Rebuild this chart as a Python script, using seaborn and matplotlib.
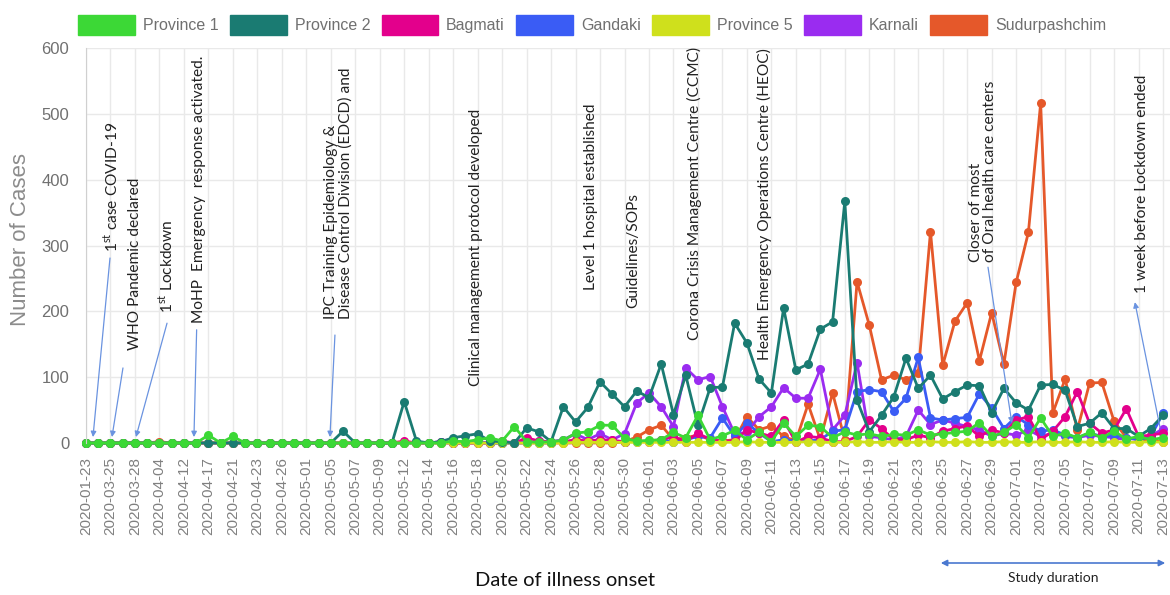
import pandas as pd
import seaborn as sns
import matplotlib.pyplot as plt
from matplotlib.patches import Patch, FancyArrowPatch

# Dates of illness onset (categorical axis, every second one labelled)
dates_early = ["2020-01-23", "2020-03-23", "2020-03-25", "2020-03-26", "2020-03-28",
               "2020-04-01", "2020-04-04", "2020-04-08", "2020-04-12", "2020-04-15",
               "2020-04-17", "2020-04-19", "2020-04-21", "2020-04-22", "2020-04-23",
               "2020-04-25", "2020-04-26", "2020-04-29", "2020-05-01", "2020-05-03",
               "2020-05-05", "2020-05-06", "2020-05-07", "2020-05-08", "2020-05-09",
               "2020-05-11"]
dates = dates_early + list(pd.date_range("2020-05-12", "2020-07-13").strftime("%Y-%m-%d"))

province_1 = [0, 0, 0, 0, 0, 0, 0, 0, 0, 0,
              12, 0, 10, 0, 0, 0, 0, 0, 0, 0,
              0, 0, 0, 0, 0, 0, 0, 0, 0, 0,
              3, 2, 5, 8, 3, 25, 2, 1, 2, 4,
              15, 17, 27, 27, 7, 3, 4, 5, 16, 8,
              42, 5, 11, 19, 5, 17, 2, 30, 10, 27,
              25, 8, 17, 12, 14, 10, 13, 12, 20, 12,
              14, 16, 18, 31, 10, 16, 28, 8, 38, 10,
              15, 8, 16, 8, 18, 6, 10, 5, 8]
province_2 = [0, 0, 0, 0, 0, 0, 0, 0, 0, 0,
              0, 0, 0, 0, 0, 0, 0, 0, 0, 0,
              0, 18, 0, 0, 0, 0, 63, 3, 0, 2,
              8, 11, 14, 3, 2, 0, 23, 17, 2, 55,
              32, 54, 93, 74, 55, 79, 69, 120, 43, 103,
              27, 84, 85, 182, 152, 97, 76, 205, 111, 120,
              173, 184, 367, 65, 17, 42, 70, 129, 83, 103,
              67, 78, 88, 87, 46, 83, 61, 50, 88, 89,
              80, 25, 30, 46, 22, 22, 10, 22, 42]
bagmati = [0, 0, 0, 0, 0, 0, 0, 0, 0, 0,
           0, 0, 0, 0, 0, 0, 0, 0, 0, 0,
           0, 0, 0, 0, 0, 0, 3, 0, 0, 2,
           0, 0, 0, 0, 3, 0, 8, 3, 2, 2,
           5, 3, 5, 4, 2, 3, 2, 5, 10, 2,
           15, 5, 3, 3, 20, 15, 10, 35, 1, 10,
           8, 2, 2, 10, 35, 22, 5, 5, 12, 8,
           18, 22, 26, 10, 20, 15, 35, 40, 5, 18,
           40, 78, 30, 15, 20, 52, 10, 12, 15]
gandaki = [0, 0, 0, 0, 0, 0, 0, 0, 0, 0,
           0, 0, 0, 0, 0, 0, 0, 0, 0, 0,
           0, 0, 0, 0, 0, 0, 0, 0, 0, 2,
           0, 0, 2, 0, 0, 0, 2, 0, 0, 2,
           3, 2, 5, 3, 2, 2, 3, 5, 2, 5,
           10, 8, 38, 10, 30, 15, 2, 5, 3, 3,
           5, 18, 20, 78, 81, 78, 48, 68, 130, 38,
           35, 37, 39, 75, 53, 22, 40, 28, 18, 20,
           12, 8, 15, 10, 12, 8, 5, 10, 45]
province_5 = [0, 0, 0, 0, 0, 0, 0, 0, 0, 0,
              0, 0, 0, 0, 0, 0, 0, 0, 0, 0,
              0, 0, 0, 0, 0, 0, 0, 0, 0, 0,
              0, 0, 0, 0, 0, 0, 0, 0, 0, 0,
              1, 1, 1, 1, 1, 1, 1, 1, 1, 1,
              1, 1, 1, 1, 2, 1, 1, 1, 1, 2,
              1, 1, 1, 2, 1, 1, 2, 1, 1, 2,
              1, 1, 2, 1, 1, 2, 1, 1, 2, 1,
              1, 2, 1, 1, 2, 1, 1, 2, 1]
karnali = [0, 0, 0, 0, 0, 0, 0, 0, 0, 0,
           0, 0, 0, 0, 0, 0, 0, 0, 0, 0,
           0, 0, 0, 0, 0, 0, 0, 0, 0, 0,
           0, 0, 0, 0, 0, 0, 0, 3, 2, 5,
           14, 5, 14, 5, 14, 61, 76, 55, 25, 114,
           96, 101, 55, 14, 16, 40, 55, 84, 68, 68,
           112, 20, 42, 122, 10, 8, 5, 10, 50, 28,
           35, 30, 25, 20, 10, 15, 12, 20, 10, 15,
           10, 8, 12, 10, 8, 5, 8, 10, 22]
sudurpashchim = [0, 0, 0, 0, 0, 0, 2, 0, 0, 0,
                 0, 0, 0, 0, 0, 0, 0, 0, 0, 0,
                 0, 0, 0, 0, 0, 0, 0, 0, 0, 0,
                 0, 0, 0, 0, 0, 0, 0, 0, 0, 0,
                 0, 0, 0, 0, 2, 9, 20, 27, 5, 8,
                 12, 5, 3, 5, 40, 20, 26, 10, 3, 59,
                 5, 76, 5, 245, 179, 96, 103, 96, 106, 321,
                 118, 185, 213, 125, 198, 120, 244, 320, 516, 46,
                 97, 20, 91, 92, 33, 8, 5, 3, 2]

provinces = ["Province 1", "Province 2", "Bagmati", "Gandaki", "Province 5", "Karnali", "Sudurpashchim"]
colors = ["#3cd836", "#1a7b72", "#e3008c", "#3a5cf5", "#cfe01c", "#9a2cf0", "#e5582a"]
palette = dict(zip(provinces, colors))

df = pd.DataFrame({"idx": range(len(dates)), "date": dates,
                   "Province 1": province_1, "Province 2": province_2, "Bagmati": bagmati,
                   "Gandaki": gandaki, "Province 5": province_5, "Karnali": karnali,
                   "Sudurpashchim": sudurpashchim})
long = df.melt(id_vars=["idx", "date"], var_name="province", value_name="cases")

sns.set_style("white")
plt.rcParams["font.family"] = ["Liberation Sans", "DejaVu Sans"]
plt.rcParams["mathtext.fontset"] = "custom"
plt.rcParams["mathtext.rm"] = "Lato"

fig = plt.figure(figsize=(11.7, 5.95), dpi=100)
ax = fig.add_axes([86 / 1170, 1 - 443 / 595, 1 - 86 / 1170, (443 - 48) / 595])

# draw order: green on top, as in the original
draw_order = ["Sudurpashchim", "Karnali", "Gandaki", "Bagmati", "Province 5", "Province 2", "Province 1"]
sns.lineplot(data=long, x="idx", y="cases", hue="province", hue_order=draw_order,
             palette=palette, marker="o", markersize=6.5, markeredgewidth=0,
             linewidth=2, errorbar=None, legend=False, ax=ax, clip_on=False)

ax.set_xlim(0, 88.57)
ax.set_ylim(0, 600)
ax.set_xticks(range(0, len(dates), 2))
ax.set_xticklabels(dates[::2], rotation=90, fontsize=11, color="#808080")
ax.set_yticks(range(0, 601, 100))
ax.tick_params(axis="y", labelsize=12, labelcolor="#707070", length=0, pad=12)
ax.tick_params(axis="x", length=0, pad=10)
ax.set_xlabel("")
ax.set_ylabel("")
ax.grid(True, color="#e9e9e9", linewidth=1)
for side in ["top", "right", "bottom"]:
    ax.spines[side].set_visible(False)
ax.spines["left"].set_color("#d0d0d0")

# annotations (text start in data coords)
arrow_kw = dict(arrowstyle="-|>", color="#6a93e0", lw=0.9, mutation_scale=8, shrinkA=0, shrinkB=0)
notes = [
    (2.1, 290, r"1$^{\rm st}$ case COVID-19"),
    (4.0, 141, "WHO Pandemic declared"),
    (6.54, 197, r"1$^{\rm st}$ Lockdown"),
    (9.26, 182, "MoHP  Emergency  response activated."),
    (20.6, 188, "IPC Training Epidemiology &\nDisease Control Division (EDCD) and"),
    (31.9, 87, "Clinical management protocol developed"),
    (41.3, 232, "Level 1 hospital established"),
    (44.7, 205, "Guidelines/SOPs"),
    (49.75, 156, "Corona Crisis Management Centre (CCMC)"),
    (55.4, 126, "Health Emergency Operations Centre (HEOC)"),
    (73.3, 275, "Closer of most\nof Oral health care centers"),
    (86.25, 228, "1 week before Lockdown ended"),
]
for x, y, t in notes:
    ax.text(x, y, t, rotation=90, ha="center", va="bottom", fontsize=11.2,
            family="Lato", color="#222222", multialignment="left", linespacing=1.05)

arrows = [
    ((1.96, 281), (0.57, 9)),
    ((3.02, 114), (2.12, 9)),
    ((6.62, 182), (4.08, 9)),
    ((9.04, 172), (8.82, 9)),
    ((20.34, 164), (19.93, 9)),
    ((73.7, 267), (75.65, 30)),
    ((87.75, 24), (85.7, 214)),
]
for start, end in arrows:
    ax.annotate("", xy=end, xytext=start, arrowprops=arrow_kw, annotation_clip=False)

# study duration marker under the axis
fig.patches.append(FancyArrowPatch(
    (938 / 1170, 1 - 563 / 595), (1168 / 1170, 1 - 563 / 595), transform=fig.transFigure,
    arrowstyle="<|-|>", color="#4a78d0", lw=1.2, mutation_scale=9))
fig.text(1053 / 1170, 1 - 578 / 595, "Study duration", ha="center", va="center",
         fontsize=10, family="Lato", color="#222222")

fig.text(565 / 1170, 1 - 580 / 595, "Date of illness onset", ha="center", va="center",
         fontsize=14.5, family="Lato", color="#111111")
fig.text(20 / 1170, 1 - 240 / 595, "Number of Cases", ha="center", va="center",
         rotation=90, fontsize=16, color="#8c8c8c")

handles = [Patch(facecolor=palette[p], edgecolor=palette[p], label=p) for p in provinces]
fig.legend(handles=handles, loc="center", bbox_to_anchor=(0.506, 1 - 25 / 595), ncol=7,
           frameon=False, handlelength=3.55, handleheight=1.55, columnspacing=0.72,
           handletextpad=0.5, fontsize=11.5, labelcolor="#707070")

fig.savefig("out.png", dpi=100)
